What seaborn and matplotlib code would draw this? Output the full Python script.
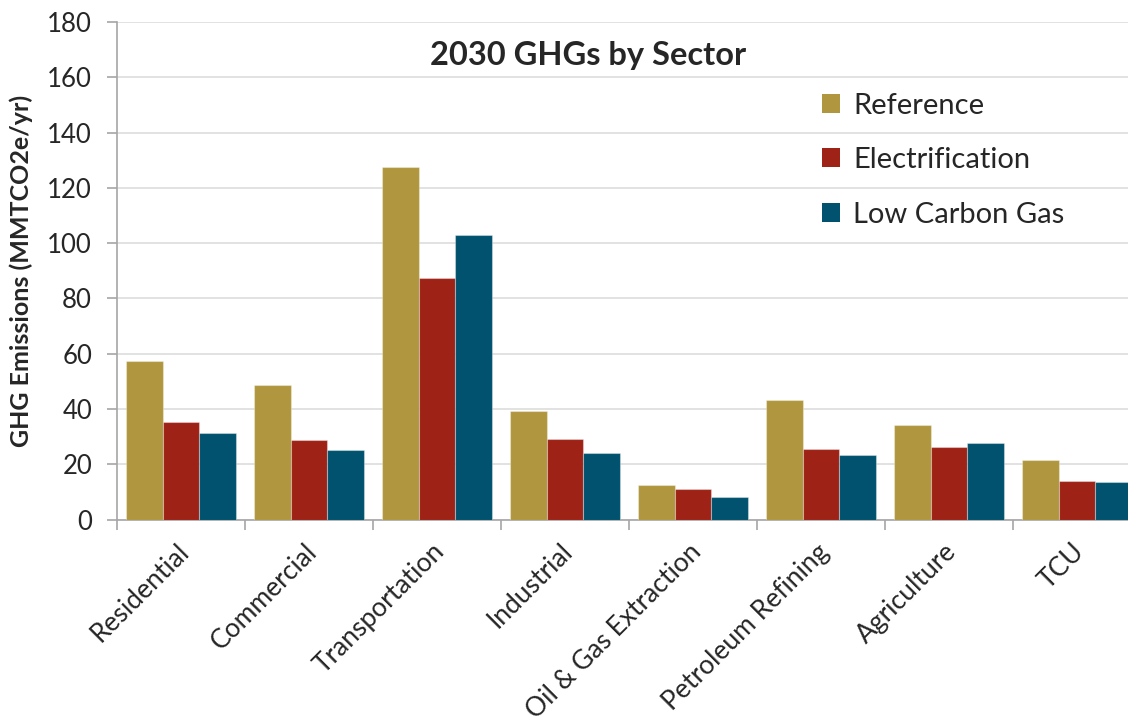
import matplotlib
matplotlib.use("Agg")
import matplotlib.pyplot as plt
import matplotlib.transforms as mtransforms
import seaborn as sns
import pandas as pd
import numpy as np

sectors = ["Residential", "Commercial", "Transportation", "Industrial",
           "Oil & Gas Extraction", "Petroleum Refining", "Agriculture", "TCU"]
reference = [57.5, 48.8, 127.6, 39.4, 12.6, 43.4, 34.3, 21.6]
electrification = [35.2, 28.6, 87.2, 29.2, 11.1, 25.6, 26.3, 14.1]
low_carbon_gas = [31.2, 25.3, 102.9, 24.2, 8.2, 23.4, 27.8, 13.7]
scenarios = ["Reference", "Electrification", "Low Carbon Gas"]
colors = ["#B0963E", "#9E2216", "#00526E"]
y_ticks = [0, 20, 40, 60, 80, 100, 120, 140, 160, 180]

df = pd.DataFrame({
    "Sector": sectors * 3,
    "Scenario": np.repeat(scenarios, len(sectors)),
    "Value": reference + electrification + low_carbon_gas,
})

sns.set_theme(style="white")
plt.rcParams["font.family"] = ["Lato", "DejaVu Sans"]

fig = plt.figure(figsize=(11.28, 7.2), dpi=100)
ax = fig.add_axes([117 / 1128, 1 - 519.5 / 720, 1024 / 1128, 497.5 / 720])

sns.barplot(data=df, x="Sector", y="Value", hue="Scenario", order=sectors,
            hue_order=scenarios, palette=colors, saturation=1, width=0.86,
            gap=0, edgecolor=(1, 1, 1, 0.35), linewidth=0.8, ax=ax, zorder=3)

ax.set_ylim(0, 180)
ax.set_xlim(-0.5, len(sectors) - 0.5)
ax.set_yticks(y_ticks)
ax.yaxis.grid(True, color="#DDDDDD", linewidth=1.2, zorder=0)
ax.set_axisbelow(True)

for side in ["top", "right"]:
    ax.spines[side].set_visible(False)
for side in ["left", "bottom"]:
    ax.spines[side].set_color("#A6A6A6")
    ax.spines[side].set_linewidth(1.2)

ax.tick_params(axis="y", which="major", length=7, width=1.2, color="#A6A6A6",
               labelsize=18.5, left=True, pad=11)
ax.tick_params(axis="x", which="major", length=0, labelsize=19, pad=14)
ax.set_xticks(np.arange(-0.5, len(sectors), 1.0), minor=True)
ax.tick_params(axis="x", which="minor", length=7, width=1.2, color="#A6A6A6",
               bottom=True)
ax.set_xticks(range(len(sectors)))
ax.set_xticklabels(sectors, rotation=45, ha="right", rotation_mode="anchor")
shift = mtransforms.ScaledTranslation(-0.05, 0, fig.dpi_scale_trans)
for lbl in ax.get_xticklabels():
    lbl.set_transform(lbl.get_transform() + shift)

ax.set_xlabel("")
ax.set_ylabel("GHG Emissions (MMTCO2e/yr)", fontsize=18, fontweight="bold",
              labelpad=10)
fig.text(588 / 1128, 1 - 55 / 720, "2030 GHGs by Sector", fontsize=23.5,
         fontweight="bold", ha="center", va="center")

leg = ax.legend(loc="upper left", bbox_to_anchor=(0.663, 0.911), frameon=False,
                fontsize=21, handlelength=0.62, handleheight=0.62,
                handletextpad=0.45, labelspacing=0.98, title=None)
for h in leg.legend_handles:
    h.set_edgecolor("none")

fig.savefig("out.png", dpi=100)
